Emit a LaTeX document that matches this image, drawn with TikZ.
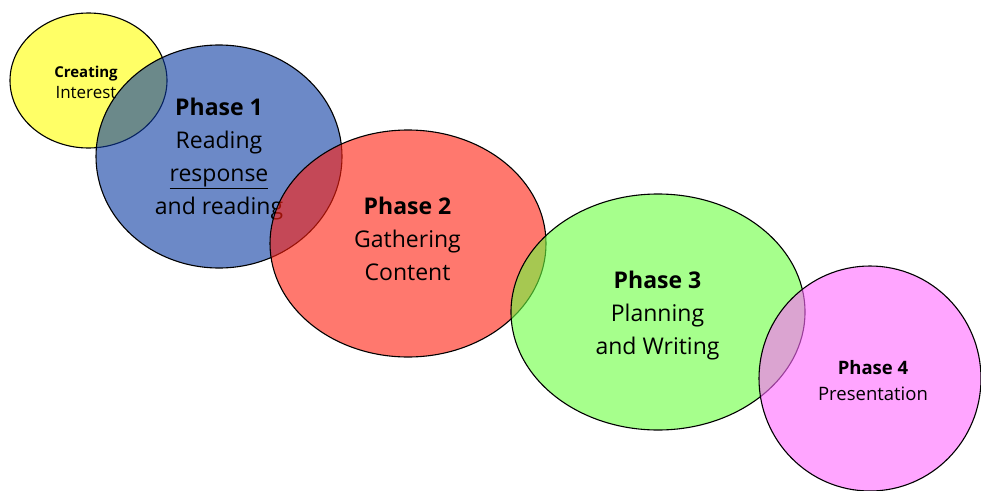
\documentclass[tikz,border=0pt]{standalone}
\usepackage{fontspec}
\setmainfont{Open Sans}
\usetikzlibrary{shapes.geometric}
\definecolor{phaseyellow}{RGB}{255,255,0}
\definecolor{phaseblue}{RGB}{10,58,162}
\definecolor{phasered}{RGB}{255,30,13}
\definecolor{phasegreen}{RGB}{107,255,63}
\definecolor{phasepink}{RGB}{255,105,255}
\tikzset{phase/.style={ellipse, draw=black, line width=1.1pt, fill opacity=0.6, inner sep=0pt}}
\tikzset{big text/.style={align=center, inner sep=0pt, font=\fontsize{23}{33}\selectfont}}
\tikzset{mid text/.style={align=center, inner sep=0pt, font=\fontsize{18.5}{26}\selectfont}}
\tikzset{small text/.style={align=center, inner sep=0pt, font=\fontsize{15}{21}\selectfont}}

\begin{document}
\begin{tikzpicture}[x=1pt,y=-1pt]
\useasboundingbox (0,0) rectangle (981,490);

\node[phase, fill=phaseyellow, minimum width=157pt, minimum height=135pt] (interest) at (88.5,80.5) {};
\node[small text] (interesttext) at (86,82) {\textbf{Creating}\\{\fontsize{17}{21}\selectfont Interest}};

\node[phase, fill=phaseblue, minimum width=246pt, minimum height=223pt] (phaseone) at (219,156.5) {};
\node[big text] (phaseonetext) at (219,159) {\textbf{Phase 1}\\Reading\\\underline{response}\\and reading};

\node[phase, fill=phasered, minimum width=276pt, minimum height=227pt] (phasetwo) at (408,243.5) {};
\node[big text] (phasetwotext) at (407.5,239) {\textbf{Phase 2}\\Gathering\\Content};

\node[phase, fill=phasegreen, minimum width=294pt, minimum height=236pt] (phasethree) at (658,312) {};
\node[big text] (phasethreetext) at (657.5,316) {\textbf{Phase 3}\\Planning\\and Writing};

\node[phase, fill=phasepink, minimum width=222pt, minimum height=225pt] (phasefour) at (870,378.5) {};
\node[mid text] (phasefourtext) at (873,381) {\textbf{Phase 4}\\Presentation};
\end{tikzpicture}
\end{document}
